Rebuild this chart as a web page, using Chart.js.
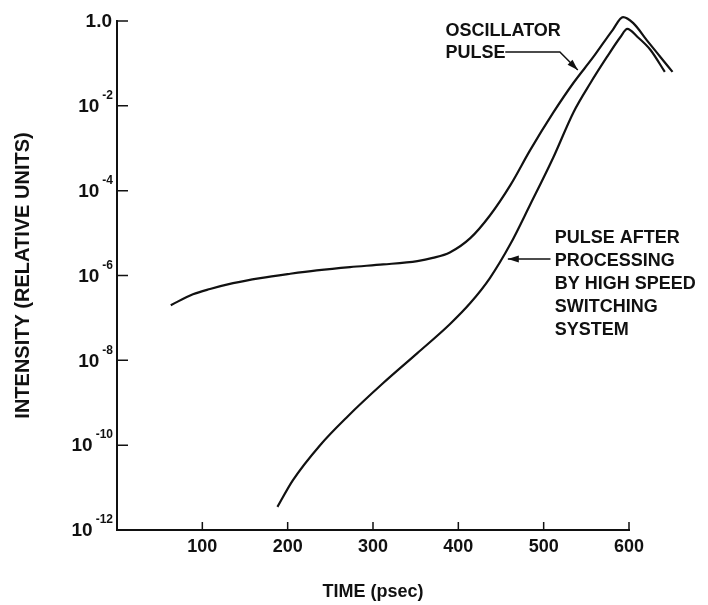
<!DOCTYPE html>
<html>
<head>
<meta charset="utf-8">
<script src="https://cdn.jsdelivr.net/npm/chart.js@4.4.0/dist/chart.umd.min.js"></script>
<style>
  html, body { margin: 0; padding: 0; background: #fff; }
  #wrap { width: 708px; height: 605px; }
</style>
</head>
<body>
<div id="wrap"><canvas id="chart" width="708" height="605"></canvas></div>
<script>
(function () {
  'use strict';

  // Oscillator pulse (time in psec, intensity in relative units)
  var OSC_TIME      = [63, 89, 109, 136, 168, 203, 234, 273, 312, 352, 370, 390, 414, 437, 461, 484, 511, 535, 558, 581, 593, 605, 621, 637, 651];
  var OSC_INTENSITY = [2.0e-7, 3.6e-7, 4.8e-7, 6.6e-7, 8.7e-7, 1.10e-6, 1.32e-6, 1.58e-6, 1.82e-6, 2.19e-6, 2.6e-6, 3.5e-6, 7.6e-6, 2.6e-5, 1.35e-4, 8.9e-4, 6.8e-3, 3.5e-2, 0.14, 0.62, 1.23, 0.89, 0.35, 0.14, 0.063];

  // Pulse after the high speed switching system
  var PROC_TIME      = [188, 206, 238, 270, 311, 352, 390, 414, 437, 461, 484, 511, 535, 555, 574, 590, 598, 610, 625, 642];
  var PROC_INTENSITY = [3.5e-12, 1.48e-11, 1.0e-10, 4.7e-10, 2.8e-9, 1.48e-8, 7.1e-8, 2.24e-7, 8.7e-7, 5.5e-6, 4.6e-5, 5.9e-4, 7.1e-3, 3.5e-2, 0.14, 0.42, 0.65, 0.42, 0.21, 0.063];

  var X_TICKS       = [100, 200, 300, 400, 500, 600];
  var X_TICK_LABELS = ['100', '200', '300', '400', '500', '600'];
  var Y_TICKS       = [1e-12, 1e-10, 1e-8, 1e-6, 1e-4, 1e-2, 1];
  var Y_TICK_BASES  = ['10', '10', '10', '10', '10', '10', '1.0'];
  var Y_TICK_POWERS = ['-12', '-10', '-8', '-6', '-4', '-2', ''];

  var INK  = '#111';
  var FONT = "'Liberation Sans', Arial, Helvetica, sans-serif";

  // callouts, anchored in data coordinates
  var NOTES = [
    { lines: ['OSCILLATOR', 'PULSE'], t: 385, v: 0.58, step: 22,
      arrow: [[455, 0.186], [519, 0.186], [540, 0.070]] },
    { lines: ['PULSE AFTER', 'PROCESSING', 'BY HIGH SPEED', 'SWITCHING', 'SYSTEM'], t: 513, v: 7.6e-6, step: 23,
      arrow: [[508, 2.45e-6], [458, 2.45e-6]] }
  ];

  function toPoints(xs, ys) {
    return xs.map(function (x, i) { return { x: x, y: ys[i] }; });
  }

  function drawArrow(ctx, pts) {
    ctx.beginPath();
    ctx.moveTo(pts[0][0], pts[0][1]);
    for (var i = 1; i < pts.length; i++) ctx.lineTo(pts[i][0], pts[i][1]);
    ctx.stroke();
    var a = pts[pts.length - 2], b = pts[pts.length - 1];
    var ang = Math.atan2(b[1] - a[1], b[0] - a[0]);
    var len = 11, half = 3.5;
    ctx.beginPath();
    ctx.moveTo(b[0], b[1]);
    ctx.lineTo(b[0] - len * Math.cos(ang) + half * Math.sin(ang), b[1] - len * Math.sin(ang) - half * Math.cos(ang));
    ctx.lineTo(b[0] - len * Math.cos(ang) - half * Math.sin(ang), b[1] - len * Math.sin(ang) + half * Math.cos(ang));
    ctx.closePath();
    ctx.fill();
  }

  var decorPlugin = {
    id: 'decor',
    afterDraw: function (chart) {
      var ctx = chart.ctx, xs = chart.scales.x, ys = chart.scales.y, area = chart.chartArea;
      ctx.save();
      ctx.strokeStyle = INK;
      ctx.fillStyle = INK;

      // inward tick marks
      ctx.lineWidth = 1.5;
      ctx.beginPath();
      Y_TICKS.forEach(function (v) {
        var py = ys.getPixelForValue(v);
        ctx.moveTo(area.left, py); ctx.lineTo(area.left + 11, py);
      });
      X_TICKS.forEach(function (v) {
        var px = xs.getPixelForValue(v);
        ctx.moveTo(px, area.bottom); ctx.lineTo(px, area.bottom - 8);
      });
      ctx.stroke();

      // y tick labels: base with raised exponent
      ctx.textAlign = 'right';
      ctx.textBaseline = 'middle';
      var right = area.left - 4;
      Y_TICKS.forEach(function (v, i) {
        var py = ys.getPixelForValue(v);
        var pw = Y_TICK_POWERS[i];
        var gap = 0;
        if (pw) {
          ctx.font = 'bold 12px ' + FONT;
          gap = ctx.measureText(pw).width + 3;
          ctx.fillText(pw, right, py - 10);
        }
        ctx.font = 'bold 19px ' + FONT;
        ctx.fillText(Y_TICK_BASES[i], right - gap - (pw ? 0 : 1), py + 1);
      });

      // callouts
      ctx.font = 'bold 18px ' + FONT;
      ctx.textAlign = 'left';
      ctx.textBaseline = 'middle';
      NOTES.forEach(function (n) {
        var x0 = xs.getPixelForValue(n.t), y0 = ys.getPixelForValue(n.v);
        n.lines.forEach(function (s, i) { ctx.fillText(s, x0, y0 + i * n.step); });
        ctx.lineWidth = 1.5;
        drawArrow(ctx, n.arrow.map(function (p) { return [xs.getPixelForValue(p[0]), ys.getPixelForValue(p[1])]; }));
      });
      ctx.restore();
    }
  };

  var lineStyle = {
    borderColor: INK,
    borderWidth: 2.2,
    pointRadius: 0,
    fill: false,
    cubicInterpolationMode: 'monotone',
    clip: false
  };

  new Chart(document.getElementById('chart'), {
    type: 'line',
    data: {
      datasets: [
        Object.assign({ label: 'Oscillator pulse', data: toPoints(OSC_TIME, OSC_INTENSITY) }, lineStyle),
        Object.assign({ label: 'Pulse after processing', data: toPoints(PROC_TIME, PROC_INTENSITY) }, lineStyle)
      ]
    },
    options: {
      responsive: false,
      animation: false,
      devicePixelRatio: 1,
      layout: { padding: { top: 21, right: 79, left: 0, bottom: 0 } },
      plugins: { legend: { display: false }, tooltip: { enabled: false } },
      scales: {
        x: {
          type: 'linear',
          // axis drawn 0..600, the pulse tails run past the end
          afterDataLimits: function (s) { s.min = 0; s.max = 600; },
          afterBuildTicks: function (s) { s.ticks = X_TICKS.map(function (v) { return { value: v }; }); },
          afterFit: function (s) { s.height = 75; },
          grid: { display: true, drawOnChartArea: false, drawTicks: false },
          border: { display: true, color: INK, width: 2 },
          ticks: {
            color: INK, padding: 6, maxRotation: 0, autoSkip: false,
            font: { family: FONT, size: 18, weight: 'bold' },
            callback: function (v) { var i = X_TICKS.indexOf(v); return i < 0 ? '' : X_TICK_LABELS[i]; }
          },
          title: {
            display: true, text: 'TIME (psec)', color: INK,
            font: { family: FONT, size: 18, weight: 'bold' },
            padding: { top: 0, bottom: 2 }
          }
        },
        y: {
          type: 'logarithmic',
          min: 1e-12,
          max: 1,
          afterBuildTicks: function (s) { s.ticks = Y_TICKS.map(function (v) { return { value: v }; }); },
          afterFit: function (s) { s.width = 117; },
          grid: { display: true, drawOnChartArea: false, drawTicks: false },
          border: { display: true, color: INK, width: 2 },
          ticks: { display: false },
          title: {
            display: true, text: 'INTENSITY (RELATIVE UNITS)', color: INK,
            font: { family: FONT, size: 20, weight: 'bold' },
            padding: { top: 11, bottom: 0 }
          }
        }
      }
    },
    plugins: [decorPlugin]
  });
})();
</script>
</body>
</html>
